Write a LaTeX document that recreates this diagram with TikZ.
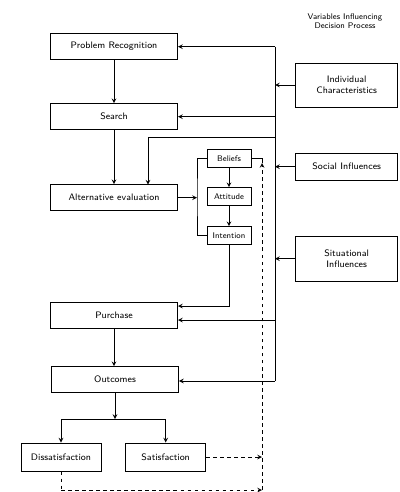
\documentclass[tikz,border=0pt]{standalone}
\usetikzlibrary{arrows}

\tikzset{
  stage/.style={draw, thick, minimum width=3.81cm, minimum height=0.78cm, inner sep=1pt, font=\sffamily\footnotesize},
  result/.style={draw, thick, minimum width=2.4cm, minimum height=0.84cm, inner sep=1pt, font=\sffamily\footnotesize},
  inner/.style={draw, thick, minimum width=1.32cm, minimum height=0.54cm, inner sep=1pt, font=\sffamily\scriptsize},
  factor/.style={draw, thick, minimum width=3.06cm, align=center, inner sep=1pt, font=\sffamily\footnotesize},
  flow/.style={thick, ->, >=stealth},
  feedback/.style={thick, dashed, ->, >=stealth}
}

\begin{document}
\begin{tikzpicture}
    \useasboundingbox (0,0) rectangle (11.97,-14.76);
    % stages of the decision process
    \node [stage] (pr) at (3.42,-1.40) {Problem Recognition};
    \node [stage] (search) at (3.42,-3.50) {Search};
    \node [stage] (alt) at (3.42,-5.93) {Alternative evaluation};
    \node [stage] (purchase) at (3.42,-9.45) {Purchase};
    \node [stage] (outcomes) at (3.45,-11.39) {Outcomes};
    \node [result] (dissat) at (1.83,-13.71) {Dissatisfaction};
    \node [result] (satis) at (4.97,-13.71) {Satisfaction};
    % beliefs, attitude, intention
    \node [inner] (beliefs) at (6.87,-4.76) {Beliefs};
    \node [inner] (attitude) at (6.87,-5.90) {Attitude};
    \node [inner] (intention) at (6.87,-7.07) {Intention};
    % influencing variables
    \node [font=\sffamily\scriptsize, align=center] (title) at (10.35,-0.63) {Variables Influencing\\Decision Process};
    \node [factor, minimum height=1.32cm] (indiv) at (10.40,-2.55) {Individual\\Characteristics};
    \node [factor, minimum height=0.81cm] (social) at (10.40,-5.00) {Social Influences};
    \node [factor, minimum height=1.35cm] (situ) at (10.40,-7.76) {Situational\\Influences};

    \coordinate (bustop) at (8.25,-1.40);
    \coordinate (busbot) at (8.25,-11.43);
    \coordinate (bracket) at (5.91,-5.93);
    \coordinate (split) at (3.45,-12.57);
    \coordinate (fbtop) at (7.86,-4.89);
    \coordinate (fbbot) at (7.86,-14.70);

    % main sequence
    \draw [flow] (pr) -- (search);
    \draw [flow] (search.south -| pr) -- (alt.north -| pr);
    \draw [flow] (purchase) -- (purchase |- outcomes.north);
    \draw [flow] (outcomes.south) -- (split);
    \draw [thick] (split -| dissat.north) -- (split -| satis.north);
    \draw [flow] (split -| dissat.north) -- (dissat.north);
    \draw [flow] (split -| satis.north) -- (satis.north);

    % alternative evaluation to beliefs block
    \draw [flow] (alt.east) -- (bracket);
    \draw [thick] (beliefs.west) -| (bracket) |- (intention.west);
    \draw [flow] (beliefs) -- (attitude);
    \draw [flow] (attitude) -- (intention);
    \draw [flow] (intention.south) |- (5.34,-9.18);

    % the variables bus
    \draw [thick] (bustop) -- (busbot);
    \draw [flow] (bustop) -- (pr.east);
    \draw [flow] (search.east -| bustop) -- (search.east);
    \draw [flow] (8.25,-4.11) -| (4.44,-5.54);
    \draw [flow] (8.25,-9.60) -- (5.34,-9.60);
    \draw [flow] (busbot) -- (busbot -| outcomes.east);
    \draw [flow] (indiv.west) -- (indiv.west -| bustop);
    \draw [flow] (social.west) -- (social.west -| bustop);
    \draw [flow] (situ.west) -- (situ.west -| bustop);

    % feedback
    \draw [thick] (beliefs.east) -| (fbtop);
    \draw [feedback] (fbbot) -- (fbtop);
    \draw [feedback] (satis.east) -- (satis.east -| fbtop);
    \draw [thick, dashed] (dissat.south) -- (dissat.south |- fbbot);
    \draw [feedback] (dissat.south |- fbbot) -- (fbbot);
\end{tikzpicture}
\end{document}
